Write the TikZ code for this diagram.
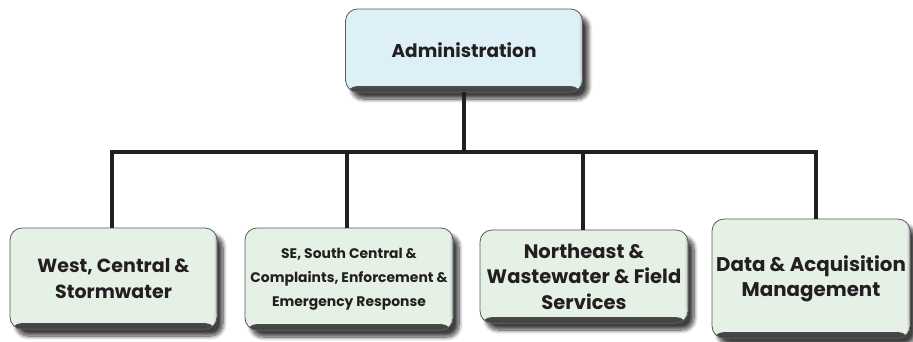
\documentclass[tikz,border=0pt]{standalone}
\usepackage{fontspec}
\setmainfont{Poppins}
\usetikzlibrary{shadows.blur}
\definecolor{ink}{HTML}{231F20}
\definecolor{adminfill}{HTML}{DDF0F7}
\definecolor{unitfill}{HTML}{E6F1E5}
% heavy label face at a given size and leading
\newcommand{\orglabel}[2]{\bfseries\fontsize{#1}{#2}\selectfont\addfontfeatures{LetterSpace=0.1}}
\tikzset{
  orgbox/.style={draw=gray!70!black, line width=0.8pt, rounded corners=12pt,
    fill=#1, align=center, text=ink, inner sep=0pt,
    path picture={
      \shade[top color=#1, bottom color=gray!50!black]
        ([yshift=6pt]path picture bounding box.south west)
        rectangle (path picture bounding box.south east);
      \shade[left color=#1, right color=gray!55]
        ([xshift=-4pt]path picture bounding box.north east)
        rectangle ([yshift=6pt]path picture bounding box.south east);
    },
    blur shadow={shadow xshift=6pt, shadow yshift=-7pt, shadow blur steps=10,
      shadow opacity=75, shadow blur radius=4pt}},
  adminbox/.style={orgbox=adminfill},
  unitbox/.style={orgbox=unitfill},
  wire/.style={draw=ink, line width=4pt}
}
\begin{document}
\begin{tikzpicture}[x=1pt, y=-1pt]
  \useasboundingbox (0,0) rectangle (913,341);
  % top of the chart
  \node[adminbox, minimum width=237pt, minimum height=83pt, font=\orglabel{18.5}{22}]
    (admin) at (464,50.5) {Administration};
  % the four divisions
  \node[unitbox, minimum width=207pt, minimum height=101pt, font=\orglabel{19}{26}]
    (west) at (113.5,278.5) {West, Central \&\\Stormwater};
  \node[unitbox, minimum width=208pt, minimum height=102pt, font=\orglabel{13.9}{24}]
    (se) at (349,279) {SE, South Central \&\\Complaints, Enforcement \&\\Emergency Response};
  \node[unitbox, minimum width=208pt, minimum height=93pt, font=\orglabel{19.5}{25.5}]
    (ne) at (584,276.5) {Northeast \&\\Wastewater \& Field\\Services};
  \node[unitbox, minimum width=198pt, minimum height=119pt, font=\orglabel{19.8}{25}]
    (data) at (811,278.5) {Data \& Acquisition\\Management};
  % bus line and its drop points
  \coordinate (busW) at (112,152);
  \coordinate (busSE) at (347,152);
  \coordinate (busNE) at (583,152);
  \coordinate (busD) at (816,152);
  \draw[wire, line cap=rect] (busW) -- (busD);
  \draw[wire] (admin.south) -- (admin.south |- busW);
  \draw[wire] (busW) -- (busW |- west.north);
  \draw[wire] (busSE) -- (busSE |- se.north);
  \draw[wire] (busNE) -- (busNE |- ne.north);
  \draw[wire] (busD) -- (busD |- data.north);
\end{tikzpicture}
\end{document}
